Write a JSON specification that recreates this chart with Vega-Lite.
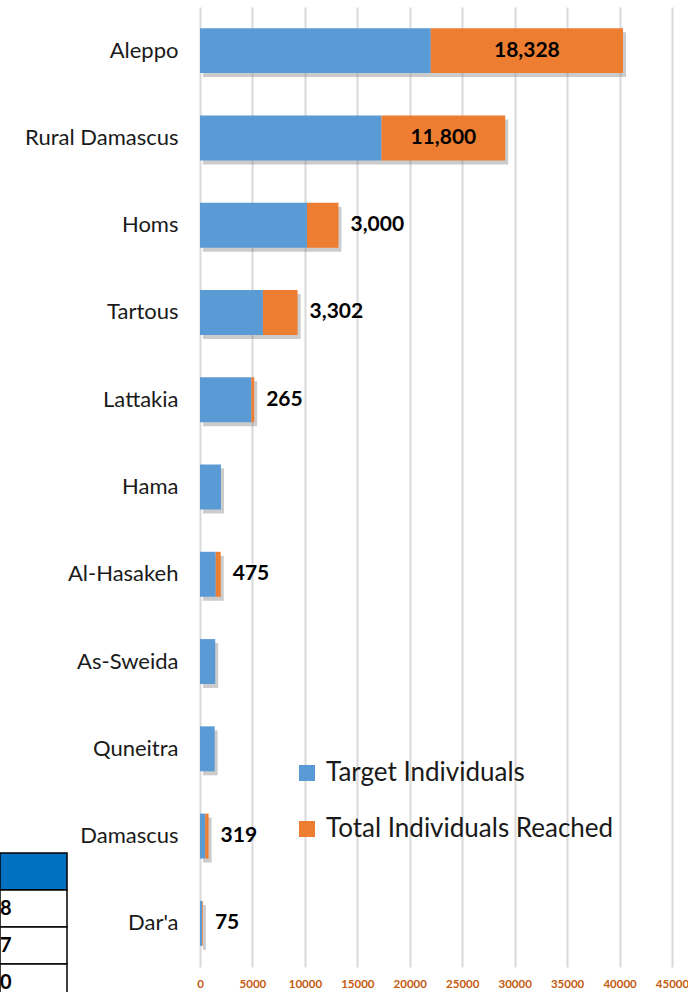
{
  "$schema": "https://vega.github.io/schema/vega-lite/v6.json",
  "width": 472,
  "height": 960,
  "autosize": {"type": "none"},
  "padding": {"left": 200, "top": 7, "right": 16, "bottom": 25},
  "background": "white",
  "config": {"view": {"stroke": null}, "font": "Lato"},
  "datasets": {
    "regions": [
      {"region": "Aleppo", "series": "Target Individuals", "value": 22000},
      {"region": "Aleppo", "series": "Total Individuals Reached", "value": 18328},
      {"region": "Rural Damascus", "series": "Target Individuals", "value": 17300},
      {"region": "Rural Damascus", "series": "Total Individuals Reached", "value": 11800},
      {"region": "Homs", "series": "Target Individuals", "value": 10200},
      {"region": "Homs", "series": "Total Individuals Reached", "value": 3000},
      {"region": "Tartous", "series": "Target Individuals", "value": 6000},
      {"region": "Tartous", "series": "Total Individuals Reached", "value": 3302},
      {"region": "Lattakia", "series": "Target Individuals", "value": 4900},
      {"region": "Lattakia", "series": "Total Individuals Reached", "value": 265},
      {"region": "Hama", "series": "Target Individuals", "value": 2000},
      {"region": "Hama", "series": "Total Individuals Reached", "value": 0},
      {"region": "Al-Hasakeh", "series": "Target Individuals", "value": 1500},
      {"region": "Al-Hasakeh", "series": "Total Individuals Reached", "value": 475},
      {"region": "As-Sweida", "series": "Target Individuals", "value": 1450},
      {"region": "As-Sweida", "series": "Total Individuals Reached", "value": 0},
      {"region": "Quneitra", "series": "Target Individuals", "value": 1400},
      {"region": "Quneitra", "series": "Total Individuals Reached", "value": 0},
      {"region": "Damascus", "series": "Target Individuals", "value": 500},
      {"region": "Damascus", "series": "Total Individuals Reached", "value": 319},
      {"region": "Dar'a", "series": "Target Individuals", "value": 200},
      {"region": "Dar'a", "series": "Total Individuals Reached", "value": 75}
    ],
    "table": [
      {"row": "Header", "label": ""},
      {"row": "Row 1", "label": "8"},
      {"row": "Row 2", "label": "7"},
      {"row": "Row 3", "label": "0"}
    ]
  },
  "layer": [
    {
      "data": {"name": "regions"},
      "encoding": {
        "y": {
          "field": "region",
          "type": "nominal",
          "sort": ["Aleppo", "Rural Damascus", "Homs", "Tartous", "Lattakia", "Hama", "Al-Hasakeh", "As-Sweida", "Quneitra", "Damascus", "Dar'a"],
          "scale": {"paddingInner": 0.485, "paddingOuter": 0.2425},
          "axis": {
            "title": null,
            "domain": false,
            "ticks": false,
            "grid": false,
            "labelPadding": 22,
            "labelFontSize": 22,
            "labelFont": "Lato",
            "labelColor": "#1a1a1a"
          }
        },
        "order": {"field": "series", "type": "nominal", "sort": "ascending"}
      },
      "layer": [
        {
          "mark": {"type": "bar", "color": "#808080", "opacity": 0.4, "xOffset": 3, "x2Offset": 3, "yOffset": 4, "y2Offset": 4},
          "encoding": {
            "x": {"field": "value", "type": "quantitative", "stack": "zero", "scale": {"domain": [0, 45000], "nice": false},
              "axis": {
                "title": null,
                "domain": false,
                "ticks": false,
                "grid": true,
                "gridColor": "#d9d9d9",
                "gridWidth": 2,
                "values": [0, 5000, 10000, 15000, 20000, 25000, 30000, 35000, 40000, 45000],
                "format": "d",
                "labelFlush": false,
                "labelOverlap": false,
                "labelBound": false,
                "labelColor": "#c55a11",
                "labelFontWeight": "bold",
                "labelFontSize": 11.5,
                "labelFont": "Lato",
                "labelPadding": 11
              }
            },
            "detail": {"field": "series"}
          }
        },
        {
          "mark": {"type": "bar"},
          "encoding": {
            "x": {"field": "value", "type": "quantitative", "stack": "zero"},
            "color": {
              "field": "series",
              "type": "nominal",
              "scale": {"domain": ["Target Individuals", "Total Individuals Reached"], "range": ["#5b9bd5", "#ed7d31"]},
              "legend": {
                "title": null,
                "orient": "none",
                "legendX": 94,
                "legendY": 753,
                "symbolType": "square",
                "symbolSize": 256,
                "symbolStrokeWidth": 0,
                "labelFontSize": 26,
                "labelFont": "Lato",
                "labelColor": "#1a1a1a",
                "rowPadding": 30,
                "labelOffset": 6,
                "labelLimit": 400
              }
            }
          }
        },
        {
          "mark": {"type": "text", "align": "center", "baseline": "middle", "font": "Lato", "fontSize": 21, "fontWeight": "bold", "color": "#000000"},
          "encoding": {
            "x": {"field": "value", "type": "quantitative", "stack": "zero", "bandPosition": 0.5},
            "detail": {"field": "series"},
            "text": {
              "condition": {"test": "datum.series === 'Total Individuals Reached' && datum.value > 10000", "field": "value", "type": "quantitative", "format": ","},
              "value": ""
            }
          }
        },
        {
          "mark": {"type": "text", "align": "left", "baseline": "middle", "dx": 12, "font": "Lato", "fontSize": 21, "fontWeight": "bold", "color": "#000000"},
          "encoding": {
            "x": {"field": "value", "type": "quantitative", "stack": "zero"},
            "detail": {"field": "series"},
            "text": {
              "condition": {"test": "datum.series === 'Total Individuals Reached' && datum.value > 0 && datum.value <= 10000", "field": "value", "type": "quantitative", "format": ","},
              "value": ""
            }
          }
        }
      ]
    },
    {
      "data": {"name": "table"},
      "encoding": {
        "y": {"field": "row", "type": "nominal", "sort": null, "scale": {"range": [846, 994], "paddingInner": 0, "paddingOuter": 0}, "axis": null},
        "x": {"datum": "Column", "type": "nominal", "scale": {"range": [-200, -133], "paddingInner": 0, "paddingOuter": 0}, "axis": null}
      },
      "layer": [
        {
          "mark": {"type": "rect", "stroke": "#000000", "strokeWidth": 1.5},
          "encoding": {
            "color": {"condition": {"test": "datum.row === 'Header'", "value": "#0070c0"}, "value": "#ffffff"}
          }
        },
        {
          "mark": {"type": "text", "align": "right", "baseline": "middle", "dx": -22, "font": "Lato", "fontSize": 20, "fontWeight": "bold", "color": "#000000"},
          "encoding": {"text": {"field": "label"}}
        }
      ]
    }
  ],
  "resolve": {
    "scale": {"x": "independent", "y": "independent", "color": "independent"},
    "axis": {"x": "independent", "y": "independent"}
  }
}
